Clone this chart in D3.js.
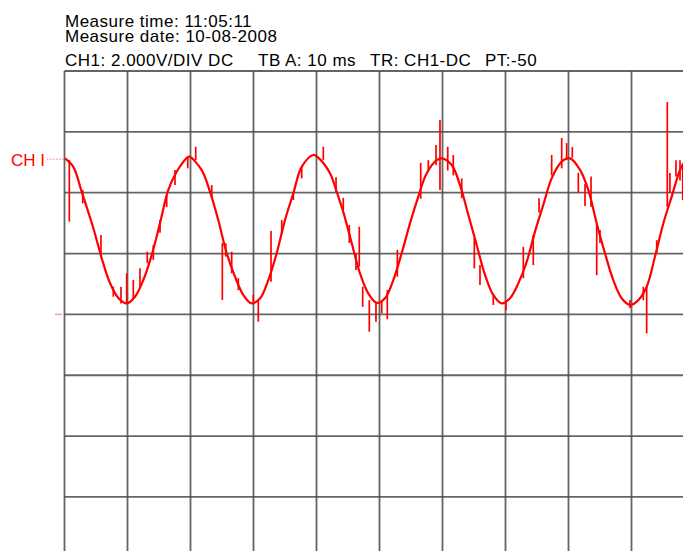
<!DOCTYPE html>
<html>
<head>
<meta charset="utf-8">
<script src="https://cdn.jsdelivr.net/npm/d3@7"></script>
<style>
  html, body { margin: 0; padding: 0; background: #fff; }
  svg { display: block; font-family: "Liberation Sans", Arial, Helvetica, sans-serif; }
</style>
</head>
<body>
<svg id="scope" width="683" height="551"></svg>
<script>
// Header readouts
const headerLines = ["Measure time: 11:05:11", "Measure date: 10-08-2008"];
const settingLabels = ["CH1: 2.000V/DIV DC", "TB A: 10 ms", "TR: CH1-DC", "PT:-50"];
const channelLabel = "CH I";

// Screen divisions: 10 ms/div horizontally, 2 V/div vertically
const timeDivs = [0, 10, 20, 30, 40, 50, 60, 70, 80, 90, 100];
const voltDivs = [-8, -6, -4, -2, 0, 2, 4, 6, 8];
const channelLevel = 5.1;   // channel marker level (V)
const groundLevel = 0;      // ground reference (V)

// Captured CH1 trace: time (ms) and voltage (V)
const traceTime = [
  0.08, 1.40, 2.73, 4.57, 5.90, 7.22, 8.54, 9.87, 11.19, 12.51, 13.84, 15.16, 16.48, 17.81, 19.65,
  19.92, 21.78, 23.10, 24.41, 25.75, 27.06, 28.38, 29.71, 31.05, 32.35, 33.68, 35.00, 36.32, 37.65, 39.49,
  40.40, 42.14, 43.21, 44.25, 45.59, 46.90, 48.22, 49.56, 50.87, 52.19, 53.52, 54.84, 56.16, 57.49, 59.08,
  59.87, 61.46, 62.78, 64.10, 65.43, 66.75, 68.06, 69.40, 70.71, 72.03, 73.37, 74.68, 76.00, 77.33, 78.92,
  80.24, 81.83, 83.14, 84.48, 85.79, 87.11, 88.44, 89.76, 91.08, 92.41, 93.73, 95.05, 96.38, 97.70, 98.33, 99.50
];
const traceVolts = [
  5.13, 4.85, 4.03, 2.84, 1.85, 1.03, 0.54, 0.36, 0.58, 1.13, 1.95, 3.00, 4.09, 4.69, 5.18,
  5.18, 4.74, 4.03, 3.10, 2.01, 1.24, 0.64, 0.36, 0.53, 1.13, 2.01, 3.10, 3.98, 4.85, 5.24,
  5.13, 4.64, 4.03, 3.37, 2.34, 1.35, 0.69, 0.38, 0.53, 1.13, 2.01, 2.99, 3.87, 4.64, 5.07,
  5.13, 4.91, 4.25, 3.27, 2.28, 1.30, 0.64, 0.36, 0.53, 1.02, 1.73, 2.72, 3.60, 4.47, 5.02,
  5.13, 4.75, 4.09, 2.99, 2.01, 1.13, 0.53, 0.31, 0.47, 0.91, 1.90, 2.99, 3.87, 4.75, 4.98, 5.15
];

// Glitches on the trace: time (ms), low and high voltage (V)
const spikeTime = [
  0.76, 2.89, 5.79, 7.75, 8.97, 9.87, 10.92, 11.98, 13.14, 14.10, 15.16, 16.22, 17.54, 19.56, 20.83,
  23.37, 25.05, 25.59, 26.54, 27.59, 29.97, 30.76, 32.78, 34.48, 36.32, 37.65, 41.08, 43.10, 44.25, 45.21,
  46.27, 46.79, 47.33, 48.38, 49.44, 50.35, 51.24, 52.83, 56.54, 57.75, 59.60, 58.97, 60.83, 61.71, 63.05,
  65.05, 65.95, 68.06, 70.08, 72.83, 74.41, 75.32, 77.33, 78.92, 79.71, 80.60, 81.56, 82.62, 83.57, 84.48,
  85.00, 89.76, 91.87, 92.41, 94.00, 95.68, 96.10, 97.06, 97.70, 98.13
];
const spikeLow = [
  3.05, 3.65, 1.85, 0.58, 0.36, 0.36, 0.54, 0.91, 1.68, 1.79, 2.68, 3.53, 4.25, 4.80, 5.07,
  3.82, 0.47, 1.90, 1.35, 0.80, 0.36, -0.24, 1.07, 2.66, 3.76, 4.47, 5.07, 4.01, 3.43, 2.35,
  1.46, 1.57, 0.25, -0.57, -0.24, 0.04, -0.16, 1.24, 3.80, 4.73, 4.09, 4.91, 4.73, 4.57, 3.82,
  1.51, 0.97, 0.31, 0.14, 1.19, 1.62, 3.35, 4.57, 4.80, 5.07, 5.15, 3.99, 3.56, 3.54, 1.29,
  2.35, 0.21, 0.47, -0.62, 2.02, 3.53, 3.99, 4.53, 4.40, 3.76
];
const spikeHigh = [
  5.07, 4.09, 2.61, 0.91, 0.91, 1.35, 1.13, 1.52, 2.06, 2.28, 3.10, 3.92, 4.75, 5.18, 5.51,
  4.25, 2.34, 2.34, 2.06, 1.19, 0.64, 0.47, 2.74, 3.10, 3.98, 4.85, 5.51, 4.51, 3.83, 2.94,
  2.01, 2.88, 0.91, 0.47, 0.37, 0.42, 0.80, 2.12, 4.98, 5.07, 6.39, 5.57, 5.51, 5.24, 4.47,
  2.51, 1.62, 0.64, 0.47, 2.22, 2.61, 3.82, 5.24, 5.80, 5.63, 5.50, 4.65, 4.29, 4.53, 2.99,
  2.77, 0.47, 0.91, 0.91, 2.44, 6.98, 4.65, 5.07, 5.07, 4.87
];

const svg = d3.select("#scope");
const x = d3.scaleLinear().domain([0, 100]).range([64.5, 694.5]);
const y = d3.scaleLinear().domain([-8, 8]).range([557.8, 71]);
const red = "#ff0000";

// Graticule
const grid = svg.append("g").attr("stroke", "#4a4a4a").attr("stroke-width", 1.8).attr("stroke-opacity", 0.85);
grid.selectAll("line.v").data(timeDivs).join("line").attr("class", "v")
  .attr("x1", d => x(d)).attr("x2", d => x(d))
  .attr("y1", y(8)).attr("y2", 551);
grid.selectAll("line.h").data(voltDivs).join("line").attr("class", "h")
  .attr("x1", x(0)).attr("x2", 683)
  .attr("y1", d => y(d)).attr("y2", d => y(d));

// Header text
const header = svg.append("g").attr("fill", "#000").attr("font-size", 17).attr("letter-spacing", 0.5);
header.selectAll("text.hl").data(headerLines).join("text").attr("class", "hl")
  .attr("x", 65).attr("y", (d, i) => 26.5 + i * 15).text(d => d);
const settingX = [65, 258, 370, 485];
header.selectAll("text.st").data(settingLabels).join("text").attr("class", "st")
  .attr("x", (d, i) => settingX[i]).attr("y", 66).text(d => d);

// Channel marker and ground reference
svg.append("text").attr("x", 11).attr("y", y(channelLevel) + 6.5)
  .attr("fill", red).attr("font-size", 17).text(channelLabel);
svg.append("line").attr("x1", 47).attr("x2", x(0) - 1)
  .attr("y1", y(channelLevel)).attr("y2", y(channelLevel))
  .attr("stroke", "#ff8080").attr("stroke-width", 1.2).attr("stroke-dasharray", "1.5,1.5");
svg.append("line").attr("x1", 55).attr("x2", 62)
  .attr("y1", y(groundLevel)).attr("y2", y(groundLevel))
  .attr("stroke", "#ff9a9a").attr("stroke-width", 1.5);

// Trace
const traceData = traceTime.map((t, i) => ({ t, v: traceVolts[i] }));
const plot = svg.append("g");
plot.append("path").datum(traceData)
  .attr("fill", "none").attr("stroke", red).attr("stroke-width", 2.2)
  .attr("stroke-linejoin", "round")
  .attr("d", d3.line().x(d => x(d.t)).y(d => y(d.v)).curve(d3.curveCatmullRom));

// Glitches
const spikes = spikeTime.map((t, i) => ({ t, lo: spikeLow[i], hi: spikeHigh[i] }));
plot.selectAll("line.spike").data(spikes).join("line").attr("class", "spike")
  .attr("x1", d => x(d.t)).attr("x2", d => x(d.t))
  .attr("y1", d => y(d.lo)).attr("y2", d => y(d.hi))
  .attr("stroke", red).attr("stroke-width", 1.7);
</script>
</body>
</html>
